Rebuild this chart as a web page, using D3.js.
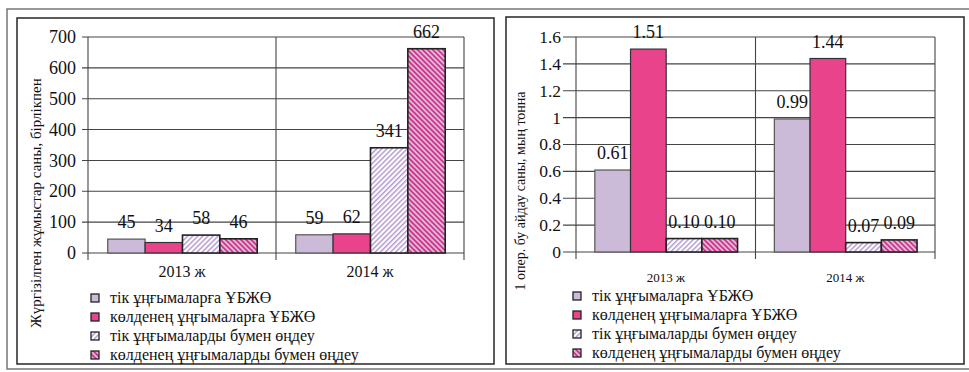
<!DOCTYPE html>
<html><head><meta charset="utf-8">
<script src="https://cdn.jsdelivr.net/npm/d3@7"></script>
<style>html,body{margin:0;padding:0;background:#fff;}svg{display:block;} svg text{font-family:"Liberation Serif","DejaVu Serif",serif;}</style>
</head><body>
<svg id="c" width="969" height="372"></svg>
<script>
const categories = ["2013 ж", "2014 ж"];
const seriesNames = ["тік ұңғымаларға ҰБЖӨ", "көлденең ұңғымаларға ҰБЖӨ", "тік ұңғымаларды бумен өңдеу", "көлденең ұңғымаларды бумен өңдеу"];
const leftValues = [[45, 59], [34, 62], [58, 341], [46, 662]];
const rightValues = [[0.61, 0.99], [1.51, 1.44], [0.10, 0.07], [0.10, 0.09]];
const leftTicks = [0, 100, 200, 300, 400, 500, 600, 700];
const rightTicks = [0, 0.2, 0.4, 0.6, 0.8, 1, 1.2, 1.4, 1.6];
const leftTickLabels = ["0", "100", "200", "300", "400", "500", "600", "700"];
const rightTickLabels = ["0", "0.2", "0.4", "0.6", "0.8", "1", "1.2", "1.4", "1.6"];
const leftYTitle = "Жүргізілген жұмыстар саны, бірлікпен";
const rightYTitle = "1 опер. бу айдау саны, мың тонна";

const svg = d3.select("#c");
const defs = svg.append("defs");

function hatch(id, bg, fg, angle, w, lw) {
  const p = defs.append("pattern").attr("id", id).attr("patternUnits", "userSpaceOnUse")
    .attr("width", w).attr("height", w).attr("patternTransform", `rotate(${angle})`);
  p.append("rect").attr("width", w).attr("height", w).attr("fill", bg);
  p.append("rect").attr("x", 0).attr("y", 0).attr("width", lw).attr("height", w).attr("fill", fg);
}
hatch("h3", "#ffffff", "#b69bd2", 45, 3.6, 1.5);
hatch("h4", "#cbc0df", "#e3267f", -45, 3.6, 1.7);
const fills = ["#cbbbd9", "#e8438b", "url(#h3)", "url(#h4)"];
const strokes = ["#555", "#333", "#222", "#222"];

// outer frames
svg.append("path").attr("d", "M969,9 H7 V369 H969").attr("fill", "none").attr("stroke", "#777").attr("stroke-width", 1.5);
svg.append("rect").attr("x", 17).attr("y", 18).attr("width", 477).attr("height", 346).attr("fill", "none").attr("stroke", "#333").attr("stroke-width", 1.6);
svg.append("rect").attr("x", 506).attr("y", 17).attr("width", 458).attr("height", 347).attr("fill", "none").attr("stroke", "#333").attr("stroke-width", 1.6);

function chart(cfg) {
  const g = svg.append("g");
  const y = d3.scaleLinear().domain([0, cfg.ymax]).range([cfg.yb, cfg.yt]);
  const x0 = d3.scaleBand().domain(categories).range([cfg.xl, cfg.xr]).padding(0);
  const bw = x0.bandwidth();
  const x1 = d3.scaleBand().domain(d3.range(4)).range([bw * 0.105, bw * 0.9]).padding(0);

  g.selectAll(".grid").data(cfg.ticks).join("line")
    .attr("x1", cfg.xl - cfg.tickLen).attr("x2", cfg.xr)
    .attr("y1", d => y(d)).attr("y2", d => y(d))
    .attr("stroke", "#444").attr("stroke-width", 1.1);
  g.selectAll(".tl").data(cfg.ticks).join("text")
    .attr("x", cfg.xl - cfg.tickLen - cfg.pad).attr("y", d => y(d))
    .attr("dy", "0.34em").attr("text-anchor", "end")
    .style("font-size", cfg.tickFs + "px").attr("fill", "#111")
    .text((d, i) => cfg.tickLabels[i]);
  const vx = [cfg.xl, ...categories.slice(1).map(c => x0(c)), cfg.xr];
  g.selectAll(".v").data(vx).join("line")
    .attr("x1", d => d).attr("x2", d => d).attr("y1", cfg.yt).attr("y2", cfg.yb + 7)
    .attr("stroke", "#444").attr("stroke-width", 1.1);

  cfg.values.forEach((vals, s) => {
    g.selectAll(null).data(vals).join("rect")
      .attr("x", (d, i) => x0(categories[i]) + x1(s))
      .attr("y", d => y(d))
      .attr("width", x1.bandwidth())
      .attr("height", d => y(0) - y(d))
      .attr("fill", fills[s]).attr("stroke", strokes[s]).attr("stroke-width", s < 2 ? 1.2 : 1.6);
    g.selectAll(null).data(vals).join("text")
      .attr("x", (d, i) => x0(categories[i]) + x1(s) + x1.bandwidth() / 2)
      .attr("y", d => y(d) - 11)
      .attr("text-anchor", "middle")
      .style("font-size", cfg.lblFs + "px").attr("fill", "#111")
      .text(d => cfg.fmt(d));
  });

  g.selectAll(".cat").data(categories).join("text")
    .attr("x", d => x0(d) + bw / 2).attr("y", cfg.catY)
    .attr("text-anchor", "middle").style("font-size", cfg.catFs + "px").attr("fill", "#111")
    .text(d => d);

  g.append("text").attr("transform", `translate(${cfg.titleX},${cfg.titleY}) rotate(-90)`)
    .attr("text-anchor", "middle").attr("dy", "0.35em")
    .style("font-size", cfg.titleFs + "px").attr("fill", "#111")
    .text(cfg.title);

  const lg = g.selectAll(".lg").data(seriesNames).join("g")
    .attr("transform", (d, i) => `translate(${cfg.legX},${cfg.legY + i * 19})`);
  lg.append("rect").attr("x", 0).attr("y", -4).attr("width", 8).attr("height", 8)
    .attr("fill", (d, i) => fills[i]).attr("stroke", "#222").attr("stroke-width", 1.3);
  lg.append("text").attr("x", cfg.legTextDx).attr("y", 0).attr("dy", "0.3em")
    .style("font-size", cfg.legFs + "px").attr("fill", "#111")
    .text(d => d);
}

chart({xl: 88, xr: 464, yt: 37, yb: 253, ymax: 700, ticks: leftTicks, tickLabels: leftTickLabels,
  tickLen: 6, pad: 6, tickFs: 18, lblFs: 18, catFs: 16, catY: 277, values: leftValues,
  fmt: d => String(d), title: leftYTitle, titleX: 36, titleY: 203, titleFs: 15,
  legX: 91, legY: 298, legTextDx: 19, legFs: 16});
chart({xl: 576, xr: 935, yt: 37, yb: 252, ymax: 1.6, ticks: rightTicks, tickLabels: rightTickLabels,
  tickLen: 13, pad: 2, tickFs: 17.5, lblFs: 18, catFs: 13, catY: 282, values: rightValues,
  fmt: d => d.toFixed(2), title: rightYTitle, titleX: 520, titleY: 191, titleFs: 14,
  legX: 573, legY: 296, legTextDx: 19, legFs: 16});
</script>
</body></html>
